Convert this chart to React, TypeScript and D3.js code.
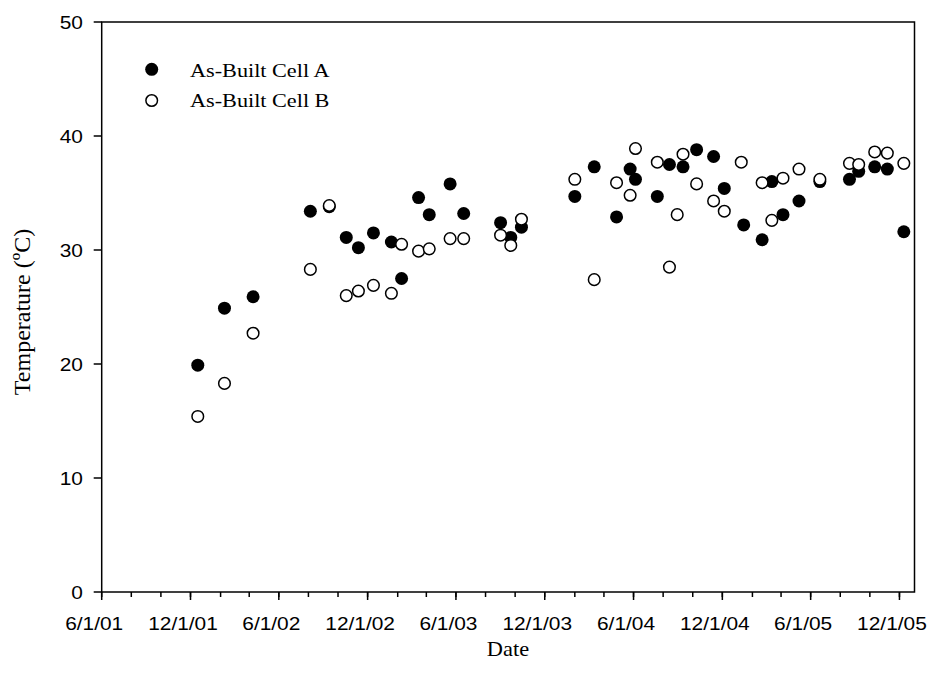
import React from "react";
import * as d3 from "d3";

const parse = d3.timeParse("%Y-%m-%d");

const datesA = [
  "2001-12-16", "2002-02-09", "2002-04-09", "2002-08-05", "2002-09-13", "2002-10-18",
  "2002-11-12", "2002-12-13", "2003-01-19", "2003-02-09", "2003-03-16", "2003-04-07",
  "2003-05-20", "2003-06-17", "2003-09-01", "2003-09-22", "2003-10-14", "2004-02-01",
  "2004-03-12", "2004-04-27", "2004-05-25", "2004-06-05", "2004-07-20", "2004-08-14",
  "2004-09-11", "2004-10-09", "2004-11-13", "2004-12-05", "2005-01-14", "2005-02-21",
  "2005-03-13", "2005-04-05", "2005-05-08", "2005-06-20", "2005-08-20", "2005-09-08",
  "2005-10-11", "2005-11-06", "2005-12-10",
];
const valuesA = [
  19.9, 24.9, 25.9, 33.4, 33.8, 31.1,
  30.2, 31.5, 30.7, 27.5, 34.6, 33.1,
  35.8, 33.2, 32.4, 31.1, 32.0, 34.7,
  37.3, 32.9, 37.1, 36.2, 34.7, 37.5,
  37.3, 38.8, 38.2, 35.4, 32.2, 30.9,
  36.0, 33.1, 34.3, 36.0, 36.2, 36.9,
  37.3, 37.1, 31.6,
];

const datesB = [
  "2001-12-16", "2002-02-09", "2002-04-09", "2002-08-05", "2002-09-13", "2002-10-18",
  "2002-11-12", "2002-12-13", "2003-01-19", "2003-02-09", "2003-03-16", "2003-04-07",
  "2003-05-20", "2003-06-17", "2003-09-01", "2003-09-22", "2003-10-14", "2004-02-01",
  "2004-03-12", "2004-04-27", "2004-05-25", "2004-06-05", "2004-07-20", "2004-08-14",
  "2004-08-30", "2004-09-11", "2004-10-09", "2004-11-13", "2004-12-05", "2005-01-09",
  "2005-02-21", "2005-03-13", "2005-04-05", "2005-05-08", "2005-06-20", "2005-08-20",
  "2005-09-08", "2005-10-11", "2005-11-06", "2005-12-10",
];
const valuesB = [
  15.4, 18.3, 22.7, 28.3, 33.9, 26.0,
  26.4, 26.9, 26.2, 30.5, 29.9, 30.1,
  31.0, 31.0, 31.3, 30.4, 32.7, 36.2,
  27.4, 35.9, 34.8, 38.9, 37.7, 28.5,
  33.1, 38.4, 35.8, 34.3, 33.4, 37.7,
  35.9, 32.6, 36.3, 37.1, 36.2, 37.6,
  37.5, 38.6, 38.5, 37.6,
];

const yTicks = [0, 10, 20, 30, 40, 50];
const xDomain = ["2001-06-01", "2006-01-01"];
const seriesNames = ["As-Built Cell A", "As-Built Cell B"];
const xTitle = "Date";
const yTitle = "Temperature (ºC)";

const W = 932, H = 681;
const L = 101.7, R = 914.5, T = 22, B = 592;

export default function App() {
  const x = d3.scaleTime().domain(xDomain.map((d) => parse(d) as Date)).range([L, R]);
  const y = d3.scaleLinear().domain([0, 50]).range([B, T]);
  const start = parse(xDomain[0]) as Date;
  const end = parse(xDomain[1]) as Date;
  const months = d3.timeMonth.range(start, d3.timeDay.offset(end, 1));
  const minor = months.filter((_, i) => i % 2 === 0);
  const major = months.filter((_, i) => i % 6 === 0);
  const fmt = d3.timeFormat("%-m/%-d/%y");
  const a = datesA.map((d, i) => ({ d: parse(d) as Date, v: valuesA[i] }));
  const b = datesB.map((d, i) => ({ d: parse(d) as Date, v: valuesB[i] }));
  const sans = "'Liberation Sans', Arial, sans-serif";
  const serif = "'Liberation Serif', 'Times New Roman', serif";

  return (
    <svg width={W} height={H} style={{ position: "absolute", left: 0, top: 0, background: "#fff" }}>
      <rect x={0} y={0} width={W} height={H} fill="#fff" />
      <rect x={L} y={T} width={R - L} height={B - T} fill="none" stroke="#000" strokeWidth={1.5} />
      {minor.map((m, i) => (
        <line key={"mi" + i} x1={x(m)} x2={x(m)} y1={B} y2={B + 5} stroke="#000" strokeWidth={1.5} />
      ))}
      {major.map((m, i) => (
        <g key={"ma" + i}>
          <line x1={x(m)} x2={x(m)} y1={B} y2={B + 8} stroke="#000" strokeWidth={1.5} />
          <text
            transform={`translate(${x(m) - 7.5},${630}) scale(1.1,1)`}
            textAnchor="middle"
            fontFamily={sans}
            fontSize={19}
            fill="#000"
          >
            {fmt(m)}
          </text>
        </g>
      ))}
      {yTicks.map((t) => (
        <g key={"y" + t}>
          <line x1={L - 8} x2={L} y1={y(t)} y2={y(t)} stroke="#000" strokeWidth={1.5} />
          <text
            transform={`translate(${83},${y(t) + 6.8}) scale(1.1,1)`}
            textAnchor="end"
            fontFamily={sans}
            fontSize={19}
            fill="#000"
          >
            {t}
          </text>
        </g>
      ))}
      <text
        transform={`translate(${508},${656}) scale(1.12,1)`}
        textAnchor="middle"
        fontFamily={serif}
        fontSize={20}
        fill="#000"
      >
        {xTitle}
      </text>
      <text
        transform={`translate(${30},${312}) rotate(-90)`}
        textAnchor="middle"
        fontFamily={serif}
        fontSize={24}
        fill="#000"
      >
        {yTitle}
      </text>
      {a.map((p, i) => (
        <circle key={"a" + i} cx={x(p.d)} cy={y(p.v)} r={6.5} fill="#000" />
      ))}
      {b.map((p, i) => (
        <circle key={"b" + i} cx={x(p.d)} cy={y(p.v)} r={5.8} fill="#fff" stroke="#000" strokeWidth={1.5} />
      ))}
      <circle cx={151.7} cy={69.3} r={6.5} fill="#000" />
      <circle cx={151.7} cy={100.5} r={5.8} fill="#fff" stroke="#000" strokeWidth={1.5} />
      <text transform={`translate(190,76.5) scale(1.17,1)`} fontFamily={serif} fontSize={19} fill="#000">
        {seriesNames[0]}
      </text>
      <text transform={`translate(190,106.5) scale(1.17,1)`} fontFamily={serif} fontSize={19} fill="#000">
        {seriesNames[1]}
      </text>
    </svg>
  );
}
